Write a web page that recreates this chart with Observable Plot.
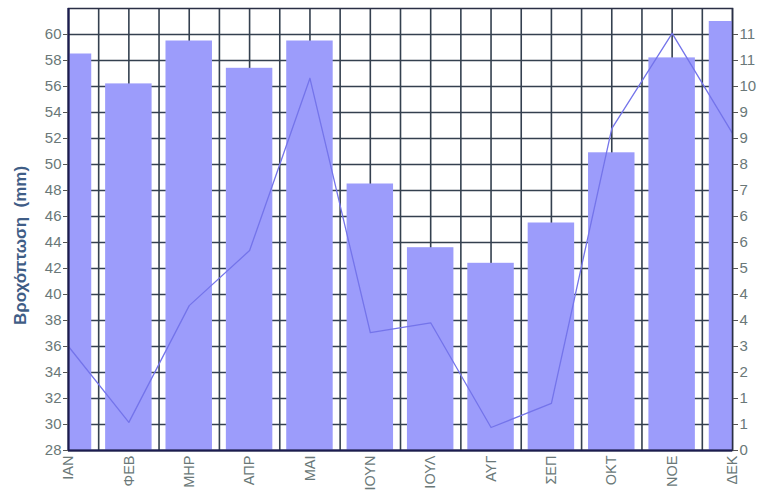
<!DOCTYPE html>
<html>
<head>
<meta charset="utf-8">
<script src="https://cdn.jsdelivr.net/npm/d3@7"></script>
<script src="https://cdn.jsdelivr.net/npm/@observablehq/plot@0.6"></script>
<style>
  html, body { margin: 0; padding: 0; background: #ffffff; }
  #chart svg { display: block; }
</style>
</head>
<body>
<div id="chart"></div>
<script>
const months = ["ΙΑΝ","ΦΕΒ","ΜΗΡ","ΑΠΡ","ΜΑΙ","ΙΟΥΝ","ΙΟΥΛ","ΑΥΓ","ΣΕΠ","ΟΚΤ","ΝΟΕ","ΔΕΚ"];
const rain = [58.5, 56.2, 59.5, 57.4, 59.5, 48.5, 43.6, 42.4, 45.5, 50.9, 58.2, 61.0];
const lineValues = [2.85, 0.77, 3.97, 5.48, 10.2, 3.23, 3.5, 0.63, 1.29, 8.82, 11.43, 8.69];
const leftTicks = d3.range(28, 61, 2);

// right axis (line) units mapped onto the left (mm) axis
const rightToLeft = d3.scaleLinear([0, 11.4], [28, 60]);

const data = months.map((m, i) => ({i, month: m, rain: rain[i], v: lineValues[i]}));

const tickColor = "#6a7878";
const gridColor = "#34404f";

const chart = Plot.plot({
  width: 781,
  height: 497,
  marginLeft: 68,
  marginRight: 49,
  marginTop: 8,
  marginBottom: 47,
  style: {fontFamily: "'Liberation Sans', Arial, sans-serif", background: "#ffffff"},
  x: {type: "linear", domain: [0, 11]},
  y: {domain: [28, 62]},
  marks: [
    Plot.gridX(d3.range(0, 11.01, 0.5), {stroke: gridColor, strokeOpacity: 1, strokeWidth: 1.6}),
    Plot.gridY(leftTicks, {stroke: gridColor, strokeOpacity: 1, strokeWidth: 1.6}),
    Plot.rect(data, {
      x1: d => d.i - 0.385, x2: d => d.i + 0.385,
      y1: () => 28, y2: "rain",
      fill: "#9c9cfb", clip: true
    }),
    Plot.line(data, {x: "i", y: d => rightToLeft(d.v), stroke: "#7474ea", strokeWidth: 1.3, clip: true}),
    Plot.frame({stroke: "#2a2f45", strokeWidth: 1.5}),
    Plot.ruleX([0], {stroke: "#1c1c50", strokeWidth: 2}),
    Plot.ruleY([28], {stroke: "#1c1c50", strokeWidth: 2}),
    Plot.axisX(d3.range(12), {
      tickFormat: i => months[i], tickRotate: -90, tickSize: 0, tickPadding: 5,
      fontSize: 14.5, fill: tickColor, label: null
    }),
    Plot.axisY(leftTicks, {
      anchor: "left", tickSize: 5, tickPadding: 2, fontSize: 15, fill: tickColor,
      stroke: "#555", label: null
    }),
    Plot.axisY(leftTicks, {
      anchor: "right", tickSize: 5, tickPadding: 2, fontSize: 15, fill: tickColor,
      stroke: "#555", label: null,
      tickFormat: d => Math.round(rightToLeft.invert(d))
    }),
    Plot.text(["Βροχόπτωση  (mm)"], {
      frameAnchor: "left", textAnchor: "middle", text: d => d, rotate: -90, dx: -48, dy: 16,
      fontSize: 17, fontWeight: "bold", fill: "#3f5d86"
    })
  ]
});
document.getElementById("chart").appendChild(chart);
</script>
</body>
</html>
